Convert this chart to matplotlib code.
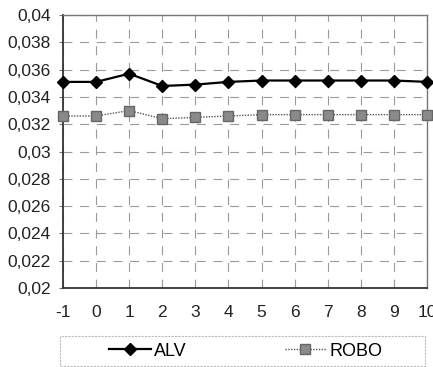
import matplotlib
matplotlib.use("Agg")
import matplotlib.pyplot as plt
from matplotlib.patches import Rectangle
from matplotlib.ticker import FuncFormatter

x_values = [-1, 0, 1, 2, 3, 4, 5, 6, 7, 8, 9, 10]
alv = [0.0351, 0.0351, 0.0357, 0.0348, 0.0349, 0.0351, 0.0352, 0.0352, 0.0352, 0.0352, 0.0352, 0.0351]
robo = [0.0326, 0.0326, 0.0330, 0.0324, 0.0325, 0.0326, 0.0327, 0.0327, 0.0327, 0.0327, 0.0327, 0.0327]
y_ticks = [0.02, 0.022, 0.024, 0.026, 0.028, 0.03, 0.032, 0.034, 0.036, 0.038, 0.04]

plt.rcParams['font.family'] = ['Liberation Sans', 'DejaVu Sans']
plt.rcParams['font.size'] = 12.5

fig = plt.figure(figsize=(4.33, 3.67), dpi=100)
ax = fig.add_axes([63 / 433, 1 - 288 / 367, (427 - 63) / 433, (288 - 15) / 367])

ax.plot(x_values, alv, color='black', lw=1.6, marker='D', ms=6.5,
        mfc='black', mec='black', label='ALV', zorder=4, clip_on=False)
ax.plot(x_values, robo, color='#555555', lw=1.0, ls=(0, (1, 1)), marker='s', ms=7.5,
        mfc='#8a8a8a', mec='#666666', label='ROBO', zorder=3, clip_on=False)

ax.set_xlim(-1, 10)
ax.set_ylim(0.02, 0.04)
ax.set_xticks(x_values)
ax.set_yticks(y_ticks)

def comma_fmt(v, pos):
    s = ('%.3f' % v).rstrip('0').rstrip('.')
    return s.replace('.', ',')

ax.yaxis.set_major_formatter(FuncFormatter(comma_fmt))
ax.xaxis.set_major_formatter(FuncFormatter(lambda v, p: '%d' % v))

ax.grid(True, color='#9a9a9a', lw=0.8, ls=(0, (8, 7)))
ax.set_axisbelow(True)

for side in ('left', 'bottom'):
    ax.spines[side].set_color('#333333')
    ax.spines[side].set_linewidth(1.3)
for side in ('top', 'right'):
    ax.spines[side].set_color('#777777')
    ax.spines[side].set_linewidth(1.0)
    ax.spines[side].set_linestyle((0, (1, 1)))

ax.tick_params(axis='y', length=3, width=0.8, color='#777777', pad=6, labelcolor='#222222')
ax.tick_params(axis='x', length=0, pad=12, labelcolor='#222222')

# legend box below the plot
fig.patches.append(Rectangle((60 / 433, 1 - 366 / 367), 365 / 433, 30 / 367,
                             transform=fig.transFigure, fill=False,
                             edgecolor='#bbbbbb', lw=0.8, ls=(0, (2, 1))))
leg = fig.legend(loc='center', bbox_to_anchor=(246 / 433, 1 - 351 / 367),
                 ncol=2, frameon=False, handlelength=2.3, handletextpad=0.2,
                 columnspacing=5.4, fontsize=13, markerscale=0.9)

fig.savefig('out.png', dpi=100, facecolor='white')
